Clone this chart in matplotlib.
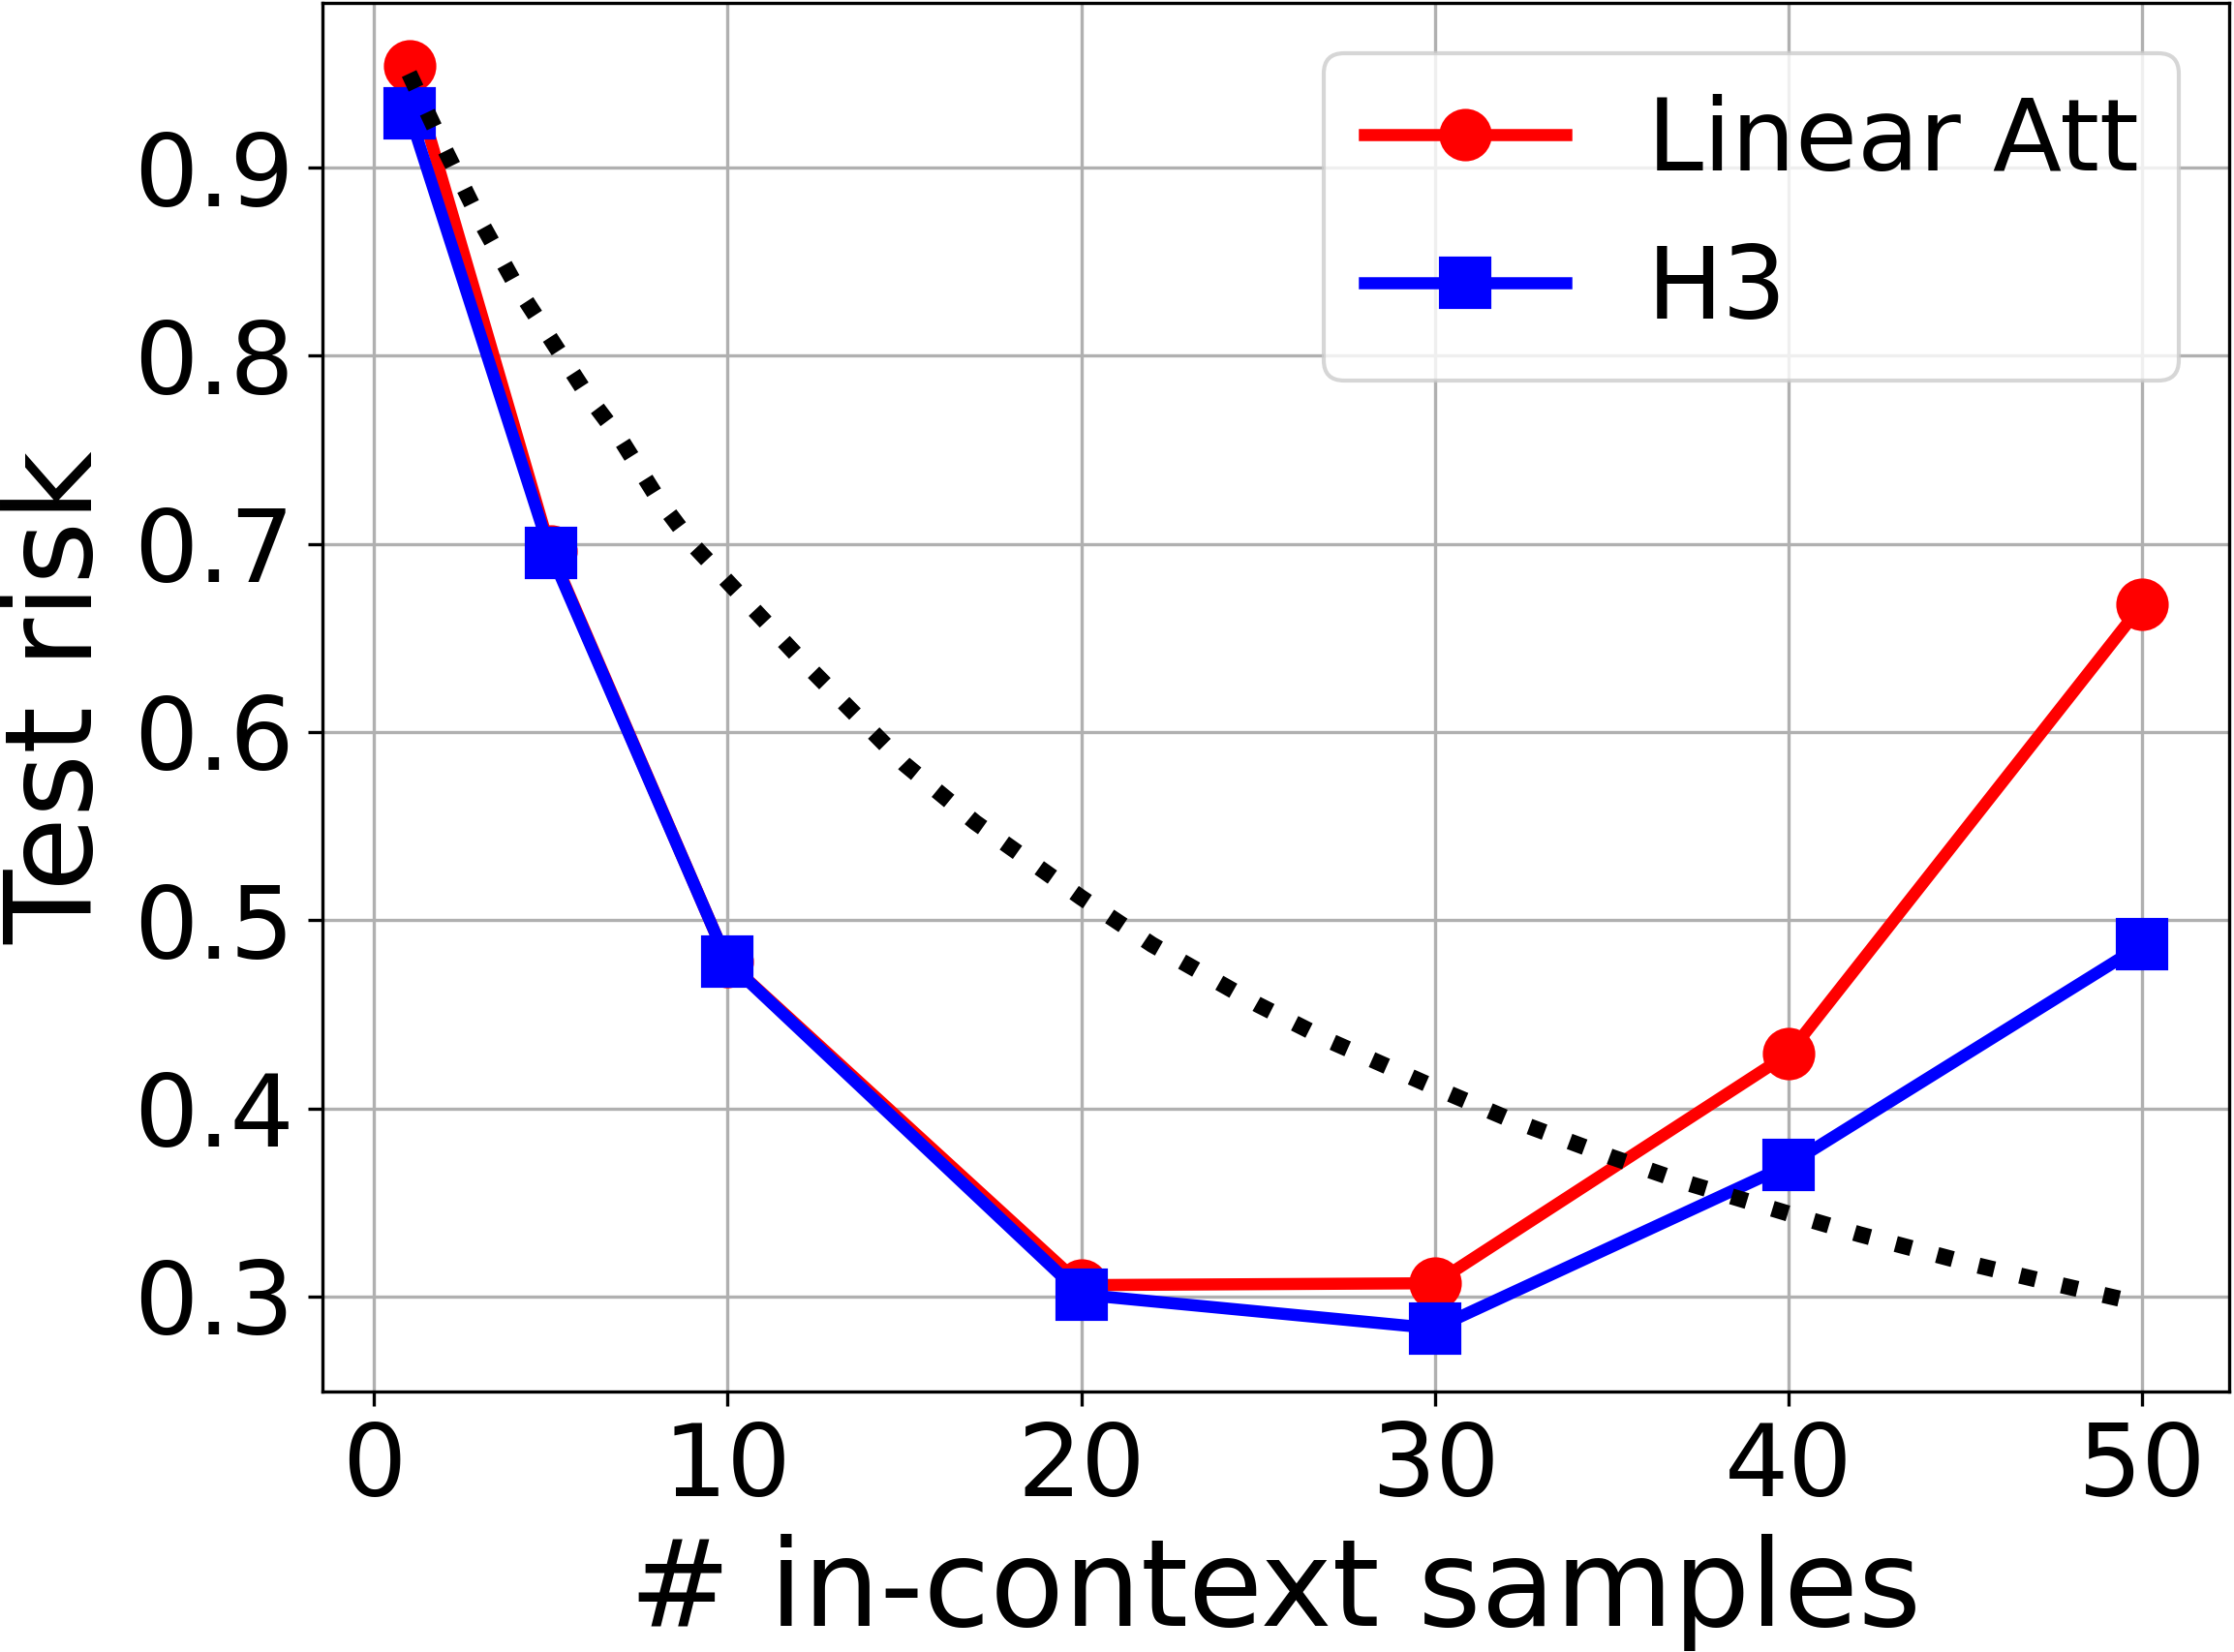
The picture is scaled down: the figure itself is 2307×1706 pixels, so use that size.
import matplotlib
matplotlib.use("Agg")
import matplotlib.pyplot as plt

# Data
n_samples = [1, 5, 10, 20, 30, 40, 50]
linear_att = [0.954, 0.696, 0.478, 0.306, 0.307, 0.429, 0.668]
h3 = [0.929, 0.695, 0.478, 0.301, 0.283, 0.370, 0.487]

ref_x = [1, 2, 3, 4, 5, 6, 7, 8, 9, 10, 12, 15, 17, 20, 22, 25, 27, 30, 32, 35, 37, 40, 42, 45, 47, 50]
ref_y = [0.950, 0.910, 0.872, 0.838, 0.809, 0.780, 0.755, 0.725, 0.700, 0.680, 0.640,
         0.583, 0.552, 0.512, 0.487, 0.455, 0.436, 0.411, 0.395, 0.374, 0.361,
         0.344, 0.333, 0.318, 0.309, 0.296]

xticks = [0, 10, 20, 30, 40, 50]
yticks = [0.3, 0.4, 0.5, 0.6, 0.7, 0.8, 0.9]

fig = plt.figure(figsize=(2307 / 300, 1706 / 300), dpi=300)
ax = fig.add_axes([333 / 2307, 1 - 1437 / 1706, (2302 - 333) / 2307, (1437 - 3) / 1706])

ax.plot(n_samples, linear_att, color="red", marker="o", lw=3, ms=12, label="Linear Att")
ax.plot(n_samples, h3, color="blue", marker="s", lw=3, ms=12, label="H3")
ax.plot(ref_x, ref_y, color="black", ls=":", lw=4)

ax.set_xticks(xticks)
ax.set_yticks(yticks)
ax.tick_params(labelsize=25)
ax.set_xlabel("# in-context samples", fontsize=30)
ax.set_ylabel("Test risk", fontsize=30)
ax.grid(True)
ax.legend(loc="upper right", fontsize=25)

fig.savefig("out.png", dpi=300)
